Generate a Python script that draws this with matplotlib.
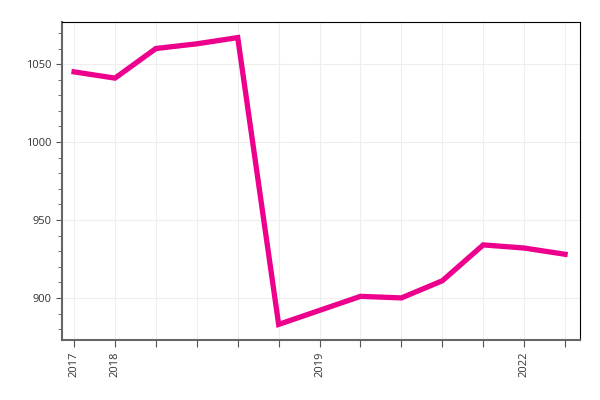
import numpy as np
import matplotlib.pyplot as plt
from matplotlib.ticker import MultipleLocator

plt.rcParams['font.family'] = ['Open Sans', 'DejaVu Sans']

# values, one per category slot
values = [1045, 1041, 1060, 1063, 1067, 883, 892, 901, 900, 911, 934, 932, 928]
tick_labels = ["2017", "2018", "", "", "", "", "2019", "", "", "", "", "2022", ""]

x = np.arange(len(values))

fig, ax = plt.subplots(figsize=(6, 4), dpi=100)
fig.subplots_adjust(left=0.103, right=0.967, top=0.945, bottom=0.15)

ax.plot(x, values, color="#EC008C", linewidth=3.8, solid_joinstyle="miter", zorder=3)

ax.set_xlim(-0.3, 12.37)
ax.set_ylim(873, 1077)
ax.set_xticks(x)
ax.set_xticklabels(tick_labels, rotation=90, fontsize=8, color="#333333")
ax.yaxis.set_major_locator(MultipleLocator(50))
ax.yaxis.set_minor_locator(MultipleLocator(10))
ax.tick_params(axis="y", labelsize=8, labelcolor="#333333", length=4, color="#555555")
ax.tick_params(axis="y", which="minor", length=3, color="#555555")
ax.tick_params(axis="x", length=5, color="#555555")

ax.grid(True, color="#eeeeee", linewidth=0.8, zorder=0)
for side in ("left", "bottom"):
    ax.spines[side].set_color("#666666")
    ax.spines[side].set_linewidth(1.5)
for side in ("top", "right"):
    ax.spines[side].set_color("black")
    ax.spines[side].set_linewidth(0.8)

fig.savefig("out.png", dpi=100)
